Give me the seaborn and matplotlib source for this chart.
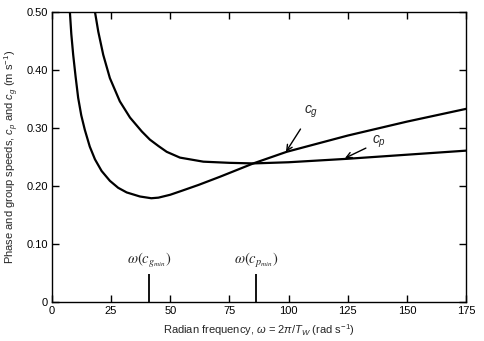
import numpy as np
import pandas as pd
import matplotlib
matplotlib.use("Agg")
import matplotlib.pyplot as plt
import seaborn as sns

# Phase speed c_p
omega_cp = [18.2, 19.6, 21.7, 24.5, 28.7, 33.0, 38.0, 41.4, 45.0, 48.5,
            54.1, 64.0, 75.0, 85.1, 100.0, 125.0, 150.0, 175.0]
speed_cp = [0.500, 0.466, 0.426, 0.386, 0.346, 0.318, 0.294, 0.280, 0.269, 0.259,
            0.249, 0.242, 0.240, 0.239, 0.241, 0.247, 0.254, 0.261]

# Group speed c_g
omega_cg = [7.6, 8.2, 9.0, 10.0, 11.1, 12.4, 13.9, 16.0, 18.2, 21.0, 24.5, 28.0,
            31.6, 37.2, 42.0, 45.0, 50.0, 55.0, 62.0, 71.0, 85.1, 99.2, 125.0, 150.0, 175.0]
speed_cg = [0.500, 0.462, 0.426, 0.389, 0.352, 0.322, 0.297, 0.268, 0.246, 0.226, 0.209, 0.197,
            0.189, 0.182, 0.179, 0.180, 0.185, 0.192, 0.202, 0.216, 0.239, 0.259, 0.287, 0.311, 0.333]

omega_markers = [41.1, 86.2]
x_ticks = [0, 25, 50, 75, 100, 125, 150, 175]
y_ticks = [0, 0.10, 0.20, 0.30, 0.40, 0.50]
y_ticklabels = ["0", "0.10", "0.20", "0.30", "0.40", "0.50"]

df = pd.concat([
    pd.DataFrame({"omega": omega_cp, "speed": speed_cp, "series": "cp"}),
    pd.DataFrame({"omega": omega_cg, "speed": speed_cg, "series": "cg"}),
], ignore_index=True)

sns.set_theme(style="ticks")
plt.rcParams["font.family"] = ["Liberation Sans", "DejaVu Sans"]
plt.rcParams["mathtext.fontset"] = "custom"
plt.rcParams["mathtext.rm"] = "Liberation Sans"
plt.rcParams["mathtext.it"] = "Liberation Sans:italic"
plt.rcParams["mathtext.bf"] = "Liberation Sans:bold"

fig = plt.figure(figsize=(4.85, 3.41), dpi=100)
ax = fig.add_axes([0.107, 0.114, 0.854, 0.851])

sns.lineplot(data=df, x="omega", y="speed", hue="series", units="series",
             estimator=None, sort=False, palette=["black", "black"],
             linewidth=1.6, legend=False, ax=ax)

ax.set_xlim(0, 175)
ax.set_ylim(0, 0.50)
ax.set_xticks(x_ticks)
ax.set_yticks(y_ticks)
ax.set_yticklabels(y_ticklabels)
ax.tick_params(direction="in", length=5, width=1, top=True, right=True,
               labelsize=8, colors="black", pad=3)
for s in ax.spines.values():
    s.set_color("black")
    s.set_linewidth(1.0)

ax.set_xlabel(r"Radian frequency, $\omega$ = 2$\pi$/$T_W$ (rad s$^{-1}$)", fontsize=8, labelpad=4)
ax.set_ylabel(r"Phase and group speeds, $c_p$ and $c_g$ (m s$^{-1}$)", fontsize=8, labelpad=4)

for xm in omega_markers:
    ax.vlines(xm, 0, 0.048, color="black", linewidth=1.3)
ax.text(omega_markers[0], 0.056, r"$\omega(c_{g_{min}})$", ha="center", va="bottom",
        fontsize=10.5, math_fontfamily="stix")
ax.text(omega_markers[1], 0.056, r"$\omega(c_{p_{min}})$", ha="center", va="bottom",
        fontsize=10.5, math_fontfamily="stix")

ax.annotate(r"$c_g$", xy=(98.9, 0.259), xytext=(109.7, 0.328), ha="center", va="center",
            fontsize=10,
            arrowprops=dict(arrowstyle="->", color="black", lw=1.0, shrinkA=5, shrinkB=0))
ax.annotate(r"$c_p$", xy=(123.8, 0.248), xytext=(135.1, 0.276), ha="left", va="center",
            fontsize=10,
            arrowprops=dict(arrowstyle="->", color="black", lw=1.0, shrinkA=2, shrinkB=0))

fig.savefig("out.png", dpi=100)
